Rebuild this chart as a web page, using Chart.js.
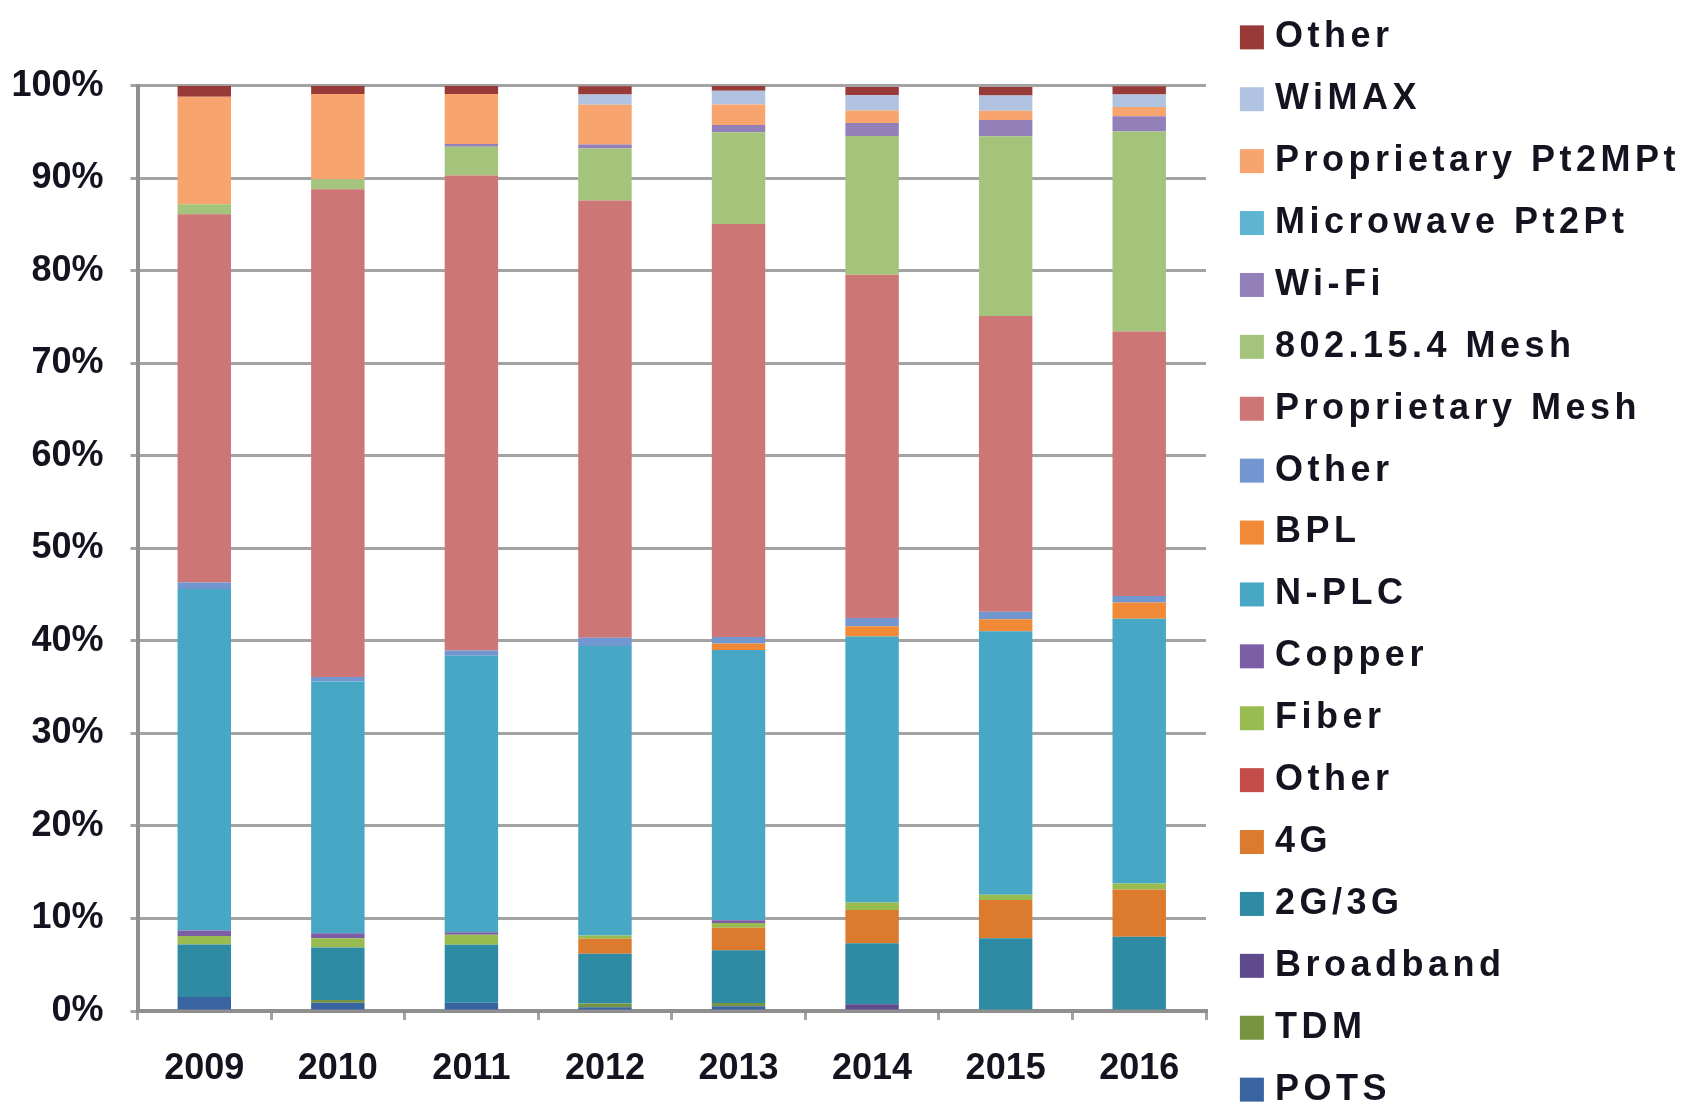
<!DOCTYPE html>
<html>
<head>
<meta charset="utf-8">
<script src="https://cdn.jsdelivr.net/npm/chart.js@4"></script>
<style>
html, body { margin: 0; padding: 0; background: #ffffff; }
canvas { display: block; }
</style>
</head>
<body>
<canvas id="chart" width="1701" height="1120"></canvas>
<script>
// ---- data (percent share per year), stacked bottom -> top ----
const years = ['2009', '2010', '2011', '2012', '2013', '2014', '2015', '2016'];

const pots          = [1.5, 0.9, 0.9, 0.4, 0.5, 0, 0, 0];
const tdm           = [0, 0.3, 0, 0.4, 0.36, 0, 0, 0];
const broadband     = [0, 0, 0, 0, 0, 0.72, 0, 0];
const cell2g3g      = [5.7, 5.65, 6.25, 5.4, 5.7, 6.6, 7.85, 8.03];
const cell4g        = [0, 0, 0, 1.6, 2.45, 3.6, 4.15, 5.1];
const otherWan      = [0, 0, 0, 0, 0, 0, 0, 0];
const fiber         = [0.9, 1.0, 1.1, 0.35, 0.5, 0.8, 0.55, 0.65];
const copper        = [0.6, 0.55, 0.25, 0, 0.3, 0, 0, 0];
const nplc          = [36.9, 27.2, 29.9, 31.3, 29.2, 28.75, 28.5, 28.6];
const bpl           = [0, 0, 0, 0, 0.7, 1.1, 1.3, 1.76];
const otherPlc      = [0.7, 0.5, 0.55, 0.9, 0.7, 0.9, 0.8, 0.7];
const propMesh      = [39.8, 52.7, 51.35, 47.25, 44.65, 37.1, 31.95, 28.6];
const mesh802154    = [1.1, 1.1, 3.1, 5.6, 9.9, 15.0, 19.45, 21.6];
const wifi          = [0, 0, 0.3, 0.45, 0.8, 1.4, 1.75, 1.65];
const microwave     = [0, 0, 0, 0, 0, 0, 0, 0];
const propPt2MPt    = [11.6, 9.2, 5.4, 4.3, 2.2, 1.35, 1.0, 1.0];
const wimax         = [0, 0, 0, 1.1, 1.5, 1.65, 1.65, 1.35];
const otherWireless = [1.2, 0.9, 0.9, 0.9, 0.5, 0.9, 0.9, 0.9];

const seriesLabels = ['POTS', 'TDM', 'Broadband', '2G/3G', '4G', 'Other', 'Fiber', 'Copper',
  'N-PLC', 'BPL', 'Other', 'Proprietary Mesh', '802.15.4 Mesh', 'Wi-Fi', 'Microwave Pt2Pt',
  'Proprietary Pt2MPt', 'WiMAX', 'Other'];
const seriesValues = [pots, tdm, broadband, cell2g3g, cell4g, otherWan, fiber, copper,
  nplc, bpl, otherPlc, propMesh, mesh802154, wifi, microwave, propPt2MPt, wimax, otherWireless];
const seriesColors = ['#3865A0', '#76943F', '#5E4A8C', '#2E8BA3', '#DC7B2E', '#C44D4A', '#98BC50', '#7B5EA6',
  '#47A7C4', '#F08A36', '#7196D0', '#CC7676', '#A4C47C', '#9480B8', '#5DB5D2',
  '#F8A46E', '#B0C4E2', '#973A38'];
const yTicks = [0, 10, 20, 30, 40, 50, 60, 70, 80, 90, 100];

// ---- style ----
const FONT = "'Liberation Sans', Arial, sans-serif";
const TXT = '#141420';
const GRID = '#A3A3A3';
const AXIS = '#8F8F8F';
const LEGEND_SPACING = '4.5px';
const LEGEND_WIDTH = 495;
const LEGEND_SHIFT_X = 8;
const LEGEND_SHIFT_Y = 3.5;
const LEGEND_TEXT_PULL = 7;

Chart.defaults.font.family = FONT;
Chart.defaults.font.weight = 'bold';
Chart.defaults.font.size = 36;
Chart.defaults.color = TXT;

const legendPatch = {
  id: 'legendPatch',
  beforeLayout(chart) {
    const lg = chart.legend;
    if (!lg || lg._patched) return;
    lg._patched = true;
    const fit0 = lg.fit;
    lg.fit = function () {
      const c = this.ctx;
      const prev = c.letterSpacing;
      try { c.letterSpacing = LEGEND_SPACING; } catch (e) {}
      fit0.call(this);
      try { c.letterSpacing = prev || '0px'; } catch (e) {}
      this.width = LEGEND_WIDTH;
    };
    const draw0 = lg.draw;
    lg.draw = function () {
      const c = this.ctx;
      c.save();
      try { c.letterSpacing = LEGEND_SPACING; } catch (e) {}
      c.translate(LEGEND_SHIFT_X, LEGEND_SHIFT_Y);
      const ft = c.fillText;
      c.fillText = function (t, x, y, m) {
        return m === undefined ? ft.call(this, t, x - LEGEND_TEXT_PULL, y)
                               : ft.call(this, t, x - LEGEND_TEXT_PULL, y, m);
      };
      try { draw0.apply(this, arguments); }
      finally { delete c.fillText; c.restore(); }
    };
  }
};

const datasets = seriesLabels.map((label, i) => ({
  label: label,
  data: seriesValues[i],
  backgroundColor: seriesColors[i],
  borderWidth: 0,
  barPercentage: 0.40,
  categoryPercentage: 1.0
}));

new Chart(document.getElementById('chart'), {
  type: 'bar',
  data: { labels: years, datasets: datasets },
  plugins: [legendPatch],
  options: {
    responsive: false,
    animation: false,
    devicePixelRatio: 1,
    layout: { padding: { top: -15, bottom: -15, left: 0, right: 0 } },
    plugins: {
      tooltip: { enabled: false },
      title: {
        display: true,
        text: '',
        padding: { top: 88.7, bottom: 0 },
        font: { size: 10, lineHeight: 1.2 }
      },
      legend: {
        display: true,
        position: 'right',
        reverse: true,
        maxWidth: 600,
        labels: {
          boxWidth: 24,
          boxHeight: 24,
          padding: 25.9,
          color: TXT,
          font: { size: 36, weight: 'bold', family: FONT }
        }
      }
    },
    scales: {
      x: {
        stacked: true,
        grid: { display: true, drawOnChartArea: false, offset: true, tickLength: 9, color: GRID, lineWidth: 3 },
        border: { display: true, color: AXIS, width: 4 },
        ticks: {
          padding: 27, color: TXT, maxRotation: 0, autoSkip: false,
          font: { size: 36, weight: 'bold', lineHeight: 1.2 }
        },
        afterFit(s) { s.height = 124; }
      },
      y: {
        stacked: true,
        min: 0,
        max: 100,
        afterBuildTicks(s) { s.ticks = yTicks.map(v => ({ value: v })); },
        ticks: {
          padding: 27, color: TXT,
          font: { size: 36, weight: 'bold', lineHeight: 1.2 },
          callback: v => v + '%'
        },
        grid: { color: GRID, lineWidth: 3, tickLength: 7 },
        border: { color: AXIS, width: 4 },
        afterFit(s) { s.width = 137.5; }
      }
    }
  }
});
</script>
</body>
</html>
